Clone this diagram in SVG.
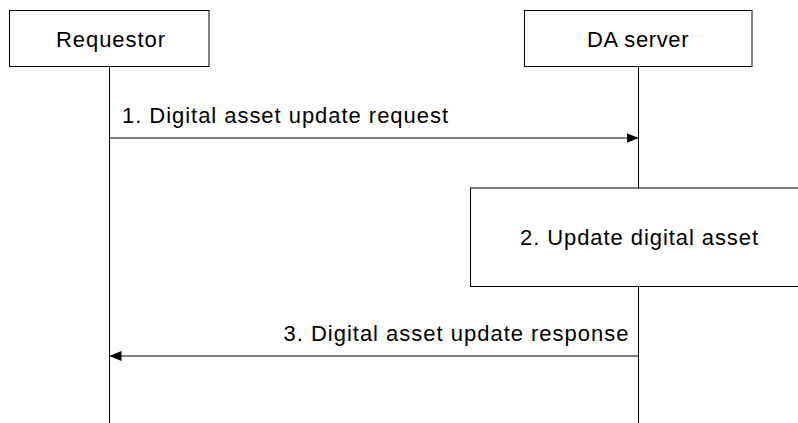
<svg xmlns="http://www.w3.org/2000/svg" width="798" height="423" viewBox="0 0 798 423">
<style>
.box{fill:#fff;stroke:#000;stroke-width:1}
.line{fill:none;stroke:#000;stroke-width:1}
.t{font-family:"Liberation Sans",Arial,sans-serif;font-size:22px;fill:#000}
</style>
<defs>
<marker id="arr" viewBox="0 0 12 10" refX="12" refY="5" markerWidth="12" markerHeight="10" markerUnits="userSpaceOnUse" orient="auto">
<path d="M0,0 L12,5 L0,10 Z" fill="#000"/>
</marker>
</defs>
<rect width="798" height="423" fill="#fff"/>
<g id="connectors">
<line class="line" x1="109.5" y1="66.5" x2="109.5" y2="423"/>
<line class="line" x1="638.5" y1="66.5" x2="638.5" y2="188"/>
<line class="line" x1="638.5" y1="286.5" x2="638.5" y2="423"/>
<g id="msg1">
<line class="line" x1="109.5" y1="138" x2="638.5" y2="138" marker-end="url(#arr)"/>
<text class="t" x="122" y="122.5" textLength="326" lengthAdjust="spacing">1. Digital asset update request</text>
</g>
<g id="msg3">
<line class="line" x1="638.5" y1="356" x2="109.5" y2="356" marker-end="url(#arr)"/>
<text class="t" x="283.5" y="341" textLength="345" lengthAdjust="spacing">3. Digital asset update response</text>
</g>
</g>
<g id="requestor">
<rect class="box" x="9.5" y="10.5" width="199.5" height="56"/>
<text class="t" x="56" y="46.7" textLength="109" lengthAdjust="spacing">Requestor</text>
</g>
<g id="da-server">
<rect class="box" x="524.5" y="10.5" width="227.5" height="56"/>
<text class="t" x="587" y="46.7" textLength="101.5" lengthAdjust="spacing">DA server</text>
</g>
<g id="update-digital-asset">
<rect class="box" x="470.5" y="188" width="340" height="98.5"/>
<text class="t" x="520" y="245" textLength="238" lengthAdjust="spacing">2. Update digital asset</text>
</g>
</svg>
